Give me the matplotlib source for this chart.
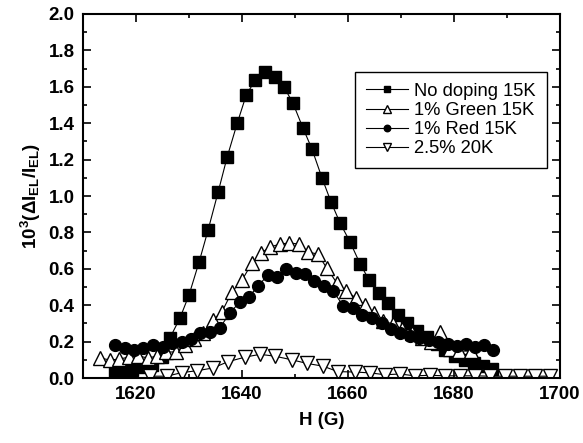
import matplotlib
matplotlib.use('Agg')
import matplotlib.pyplot as plt
from matplotlib.ticker import MultipleLocator

plt.rcParams['font.family'] = ['Liberation Sans', 'DejaVu Sans']
plt.rcParams['mathtext.fontset'] = 'custom'
plt.rcParams['mathtext.rm'] = 'Liberation Sans:bold'
plt.rcParams['mathtext.it'] = 'Liberation Sans:bold'
plt.rcParams['mathtext.bf'] = 'Liberation Sans:bold'

# No doping 15K
h_nodope = [1616.0, 1617.5, 1619.2, 1621.3, 1623.0, 1624.9, 1626.4, 1628.3, 1630.0, 1631.9,
            1633.6, 1635.5, 1637.2, 1639.1, 1640.8, 1642.5, 1644.3, 1646.2, 1647.9, 1649.6,
            1651.5, 1653.2, 1655.1, 1656.8, 1658.5, 1660.4, 1662.3, 1664.0, 1665.8, 1667.5,
            1669.4, 1671.1, 1673.0, 1674.9, 1676.8, 1678.3, 1680.2, 1682.1, 1683.8, 1685.5,
            1687.2]
v_nodope = [0.027, 0.033, 0.044, 0.060, 0.071, 0.115, 0.22, 0.33, 0.456, 0.637,
            0.813, 1.022, 1.214, 1.40, 1.555, 1.637, 1.680, 1.654, 1.60, 1.511,
            1.374, 1.258, 1.099, 0.967, 0.852, 0.747, 0.626, 0.538, 0.467, 0.412,
            0.346, 0.302, 0.258, 0.225, 0.187, 0.154, 0.121, 0.099, 0.082, 0.066,
            0.049]

# 1% Green 15K
h_green = [1613.2, 1615.1, 1616.8, 1618.7, 1620.4, 1622.3, 1624.0, 1625.7, 1627.5, 1629.2,
           1630.9, 1632.6, 1634.5, 1636.2, 1638.1, 1640.0, 1641.9, 1643.6, 1645.3, 1647.2,
           1648.9, 1650.8, 1652.5, 1654.3, 1656.0, 1657.9, 1659.6, 1661.5, 1663.2, 1664.9,
           1666.6, 1668.5, 1670.2, 1672.1, 1674.0, 1675.7, 1677.4, 1679.2, 1680.9, 1683.2]
v_green = [0.110, 0.099, 0.104, 0.115, 0.121, 0.110, 0.121, 0.143, 0.143, 0.181,
           0.214, 0.247, 0.319, 0.363, 0.473, 0.538, 0.632, 0.687, 0.720, 0.736,
           0.742, 0.736, 0.692, 0.681, 0.604, 0.522, 0.478, 0.440, 0.401, 0.357,
           0.313, 0.297, 0.269, 0.247, 0.220, 0.198, 0.253, 0.159, 0.148, 0.148]

# 1% Red 15K
h_red = [1616.0, 1617.9, 1619.6, 1621.3, 1623.2, 1625.1, 1626.8, 1628.7, 1630.4, 1632.1,
         1634.0, 1635.8, 1637.7, 1639.6, 1641.3, 1643.0, 1644.9, 1646.6, 1648.3, 1650.2,
         1651.9, 1653.6, 1655.5, 1657.2, 1659.1, 1661.0, 1662.6, 1664.5, 1666.4, 1668.1,
         1669.8, 1671.7, 1673.4, 1675.3, 1677.0, 1678.9, 1680.6, 1682.3, 1684.0, 1685.7,
         1687.4]
v_red = [0.181, 0.165, 0.154, 0.165, 0.181, 0.170, 0.192, 0.198, 0.214, 0.247,
         0.253, 0.275, 0.357, 0.418, 0.445, 0.505, 0.566, 0.555, 0.599, 0.577,
         0.571, 0.533, 0.505, 0.478, 0.396, 0.385, 0.346, 0.330, 0.302, 0.269,
         0.247, 0.231, 0.220, 0.209, 0.198, 0.187, 0.176, 0.187, 0.170, 0.181,
         0.154]

# 2.5% 20K
h_25 = [1622.6, 1625.8, 1628.7, 1631.5, 1634.5, 1637.4, 1640.6, 1643.4, 1646.2, 1649.4,
        1652.3, 1655.3, 1658.1, 1661.3, 1664.2, 1667.0, 1669.8, 1672.6, 1675.5, 1678.3,
        1681.1, 1684.0, 1686.8, 1689.6, 1692.5, 1695.3, 1698.1]
v_25 = [0.010, 0.010, 0.030, 0.040, 0.055, 0.090, 0.115, 0.130, 0.120, 0.100,
        0.080, 0.065, 0.035, 0.033, 0.028, 0.018, 0.022, 0.012, 0.015, 0.012,
        0.012, 0.012, 0.010, 0.010, 0.010, 0.010, 0.010]

fig = plt.figure(figsize=(5.83, 4.43), dpi=100)
ax = fig.add_axes([0.1424, 0.1467, 0.8181, 0.8217])

lw = 0.8
ax.plot(h_nodope, v_nodope, '-', color='black', lw=lw, marker='s', ms=8.2,
        mfc='black', mec='black', label='No doping 15K')
ax.plot(h_green, v_green, '-', color='black', lw=lw, marker='^', ms=9.5,
        mfc='white', mec='black', mew=1.0, label='1% Green 15K')
ax.plot(h_red, v_red, '-', color='black', lw=lw, marker='o', ms=8.5,
        mfc='black', mec='black', label='1% Red 15K')
ax.plot(h_25, v_25, '-', color='black', lw=lw, marker='v', ms=9.5,
        mfc='white', mec='black', mew=1.0, label='2.5% 20K')

ax.set_xlim(1610, 1700)
ax.set_ylim(0.0, 2.0)
ax.xaxis.set_major_locator(MultipleLocator(20))
ax.xaxis.set_minor_locator(MultipleLocator(10))
ax.yaxis.set_major_locator(MultipleLocator(0.2))
ax.yaxis.set_minor_locator(MultipleLocator(0.1))
ax.yaxis.set_major_formatter(matplotlib.ticker.FormatStrFormatter('%.1f'))

for s in ax.spines.values():
    s.set_linewidth(1.5)
ax.tick_params(which='both', direction='in', top=True, right=True, width=1.2)
ax.tick_params(which='major', length=6)
ax.tick_params(which='minor', length=3)
ax.tick_params(axis='x', pad=6)
ax.tick_params(axis='y', pad=6)
for lab in ax.get_xticklabels() + ax.get_yticklabels():
    lab.set_fontsize(13.5)
    lab.set_fontweight('bold')

ax.set_xlabel('H (G)', fontsize=13.5, fontweight='bold', labelpad=6)
ax.set_ylabel(r'$10^3(\Delta I_{EL}/I_{EL})$', fontsize=13.5, labelpad=4)

leg = ax.legend(loc='upper left', bbox_to_anchor=(0.570, 0.841), fontsize=13.2,
                markerscale=0.55, handlelength=2.3, handletextpad=0.35,
                labelspacing=0.12, borderpad=0.6, borderaxespad=0,
                fancybox=False, edgecolor='black', framealpha=1)
leg.get_frame().set_linewidth(1.0)

plt.savefig('out.png', dpi=100)
